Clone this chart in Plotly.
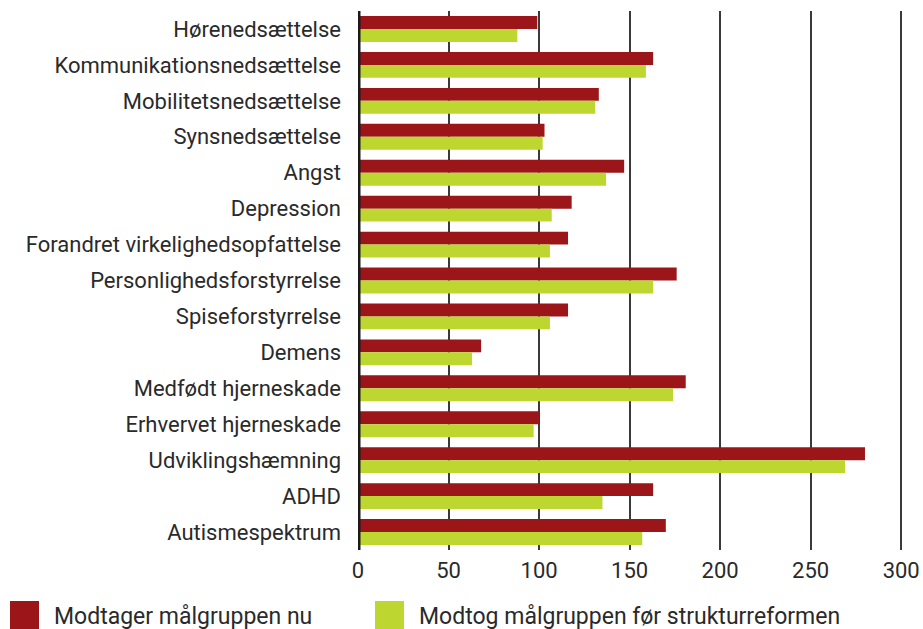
import plotly.graph_objects as go

categories = [
    "Hørenedsættelse", "Kommunikationsnedsættelse", "Mobilitetsnedsættelse",
    "Synsnedsættelse", "Angst", "Depression", "Forandret virkelighedsopfattelse",
    "Personlighedsforstyrrelse", "Spiseforstyrrelse", "Demens",
    "Medfødt hjerneskade", "Erhvervet hjerneskade", "Udviklingshæmning",
    "ADHD", "Autismespektrum",
]
now_values = [99, 163, 133, 103, 147, 118, 116, 176, 116, 68, 181, 100, 280, 163, 170]
before_values = [88, 159, 131, 102, 137, 107, 106, 163, 106, 63, 174, 97, 269, 135, 157]
series_names = ["Modtager målgruppen nu", "Modtog målgruppen før strukturreformen"]
tick_vals = [0, 50, 100, 150, 200, 250, 300]

RED = "#9B1519"
GREEN = "#BED730"
FONT = "Roboto"
TEXT = "#2a2a2a"

fig = go.Figure()
fig.add_trace(go.Bar(y=categories, x=now_values, orientation="h",
                     name=series_names[0], marker=dict(color=RED, line_width=0)))
fig.add_trace(go.Bar(y=categories, x=before_values, orientation="h",
                     name=series_names[1], marker=dict(color=GREEN, line_width=0)))

# thick axis at zero
fig.add_shape(type="line", xref="x", yref="paper", x0=0, x1=0, y0=0, y1=1,
              line=dict(color="#1a1a1a", width=5), layer="above")

# legend drawn by hand to get the large squares
legend_x = [10, 375]
for name, color, lx in zip(series_names, [RED, GREEN], legend_x):
    fig.add_shape(type="rect", xref="paper", yref="paper",
                  x0=(lx - 358) / 545, x1=(lx + 29 - 358) / 545,
                  y0=(550 - 629) / 539, y1=(550 - 601) / 539,
                  fillcolor=color, line_width=0)
    fig.add_annotation(text=name, xref="paper", yref="paper",
                       x=(lx + 42 - 358) / 545, y=(550 - 616) / 539,
                       xanchor="left", yanchor="middle", showarrow=False,
                       font=dict(family=FONT, size=23, color=TEXT))

fig.update_layout(
    barmode="group",
    bargap=0.28,
    bargroupgap=0,
    showlegend=False,
    width=923, height=629,
    margin=dict(l=358, r=20, t=11, b=79),
    plot_bgcolor="white",
    paper_bgcolor="white",
    font=dict(family=FONT, size=22, color=TEXT),
    xaxis=dict(range=[0, 301], tickvals=tick_vals, showgrid=True,
               gridcolor="#3a3a3a", gridwidth=2, zeroline=False,
               showline=False, ticks="", tickfont=dict(size=22),
               automargin=False, ticklabelstandoff=5),
    yaxis=dict(autorange="reversed", showgrid=False, zeroline=False,
               ticks="", ticklabelstandoff=16, tickfont=dict(size=22),
               automargin=False),
)

fig.write_html("out.html", config={"displayModeBar": False},
               post_script="document.body.style.margin='0';")
